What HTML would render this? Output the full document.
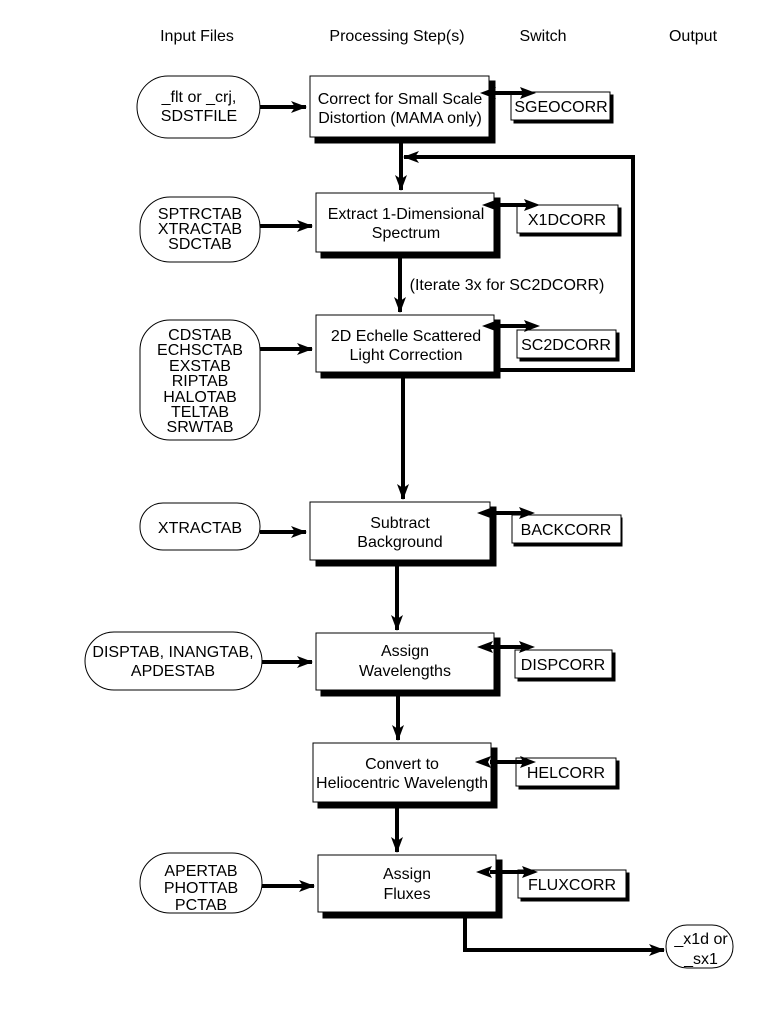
<!DOCTYPE html>
<html><head><meta charset="utf-8"><style>
html,body{margin:0;padding:0;background:#fff;}
svg{display:block;}
text{font-family:"Liberation Sans",sans-serif;font-size:16px;fill:#000;}
</style></head><body>
<svg width="778" height="1009" viewBox="0 0 778 1009" xmlns="http://www.w3.org/2000/svg">
<defs>
<marker id="ah" markerWidth="16" markerHeight="12" refX="15" refY="6" orient="auto" markerUnits="userSpaceOnUse">
<path d="M0,0 L16,6 L0,12 L4,6 Z" fill="#000"/>
</marker>
</defs>
<g text-anchor="middle">
<text x="197" y="41">Input Files</text>
<text x="397" y="41">Processing Step(s)</text>
<text x="543" y="41">Switch</text>
<text x="693" y="41">Output</text>
</g>

<!-- connectors -->
<g stroke="#000" stroke-width="4" fill="none">
<line x1="260" y1="107" x2="306" y2="107" marker-end="url(#ah)"/>
<line x1="260" y1="226" x2="312" y2="226" marker-end="url(#ah)"/>
<line x1="260" y1="349" x2="312" y2="349" marker-end="url(#ah)"/>
<line x1="260" y1="532" x2="306" y2="532" marker-end="url(#ah)"/>
<line x1="262" y1="662" x2="312" y2="662" marker-end="url(#ah)"/>
<line x1="262" y1="886" x2="314" y2="886" marker-end="url(#ah)"/>

<line x1="401" y1="143" x2="401" y2="190" marker-end="url(#ah)"/>
<line x1="400" y1="258" x2="400" y2="312" marker-end="url(#ah)"/>
<line x1="403" y1="378" x2="403" y2="499" marker-end="url(#ah)"/>
<line x1="397" y1="566" x2="397" y2="630" marker-end="url(#ah)"/>
<line x1="398" y1="696" x2="398" y2="740" marker-end="url(#ah)"/>
<line x1="397" y1="808" x2="397" y2="852" marker-end="url(#ah)"/>

<polyline points="495,370 633,370 633,157 404,157" marker-end="url(#ah)"/>
<polyline points="465,918 465,950 664,950" marker-end="url(#ah)"/>
</g>

<!-- processing boxes with shadows -->
<g stroke="#000" stroke-width="1">
<rect x="315" y="81" width="180" height="62" fill="#000"/>
<rect x="310" y="76" width="179" height="61" fill="#fff"/>
<rect x="321" y="198" width="179" height="60" fill="#000"/>
<rect x="316" y="193" width="178" height="59" fill="#fff"/>
<rect x="321" y="320" width="179" height="58" fill="#000"/>
<rect x="316" y="315" width="178" height="57" fill="#fff"/>
<rect x="316" y="507" width="180" height="59" fill="#000"/>
<rect x="310" y="502" width="180" height="58" fill="#fff"/>
<rect x="321" y="638" width="179" height="58" fill="#000"/>
<rect x="316" y="633" width="178" height="57" fill="#fff"/>
<rect x="318" y="748" width="179" height="60" fill="#000"/>
<rect x="313" y="743" width="178" height="59" fill="#fff"/>
<rect x="323" y="860" width="179" height="58" fill="#000"/>
<rect x="318" y="855" width="178" height="57" fill="#fff"/>
</g>
<g text-anchor="middle">
<text x="400" y="104">Correct for Small Scale</text>
<text x="400" y="123">Distortion (MAMA only)</text>
<text x="406" y="219">Extract 1-Dimensional</text>
<text x="406" y="238">Spectrum</text>
<text x="406" y="341">2D Echelle Scattered</text>
<text x="406" y="360">Light Correction</text>
<text x="400" y="528">Subtract</text>
<text x="400" y="547">Background</text>
<text x="405" y="656">Assign</text>
<text x="405" y="676">Wavelengths</text>
<text x="402" y="769">Convert to</text>
<text x="402" y="788">Heliocentric Wavelength</text>
<text x="407" y="879">Assign</text>
<text x="407" y="899">Fluxes</text>
<text x="507" y="290">(Iterate 3x for SC2DCORR)</text>
</g>

<!-- switch boxes -->
<g stroke="#000" stroke-width="1">
<rect x="514" y="95" width="99" height="28" fill="#000"/>
<rect x="511" y="92" width="99" height="28" fill="#fff"/>
<rect x="520" y="208" width="101" height="28" fill="#000"/>
<rect x="517" y="205" width="101" height="28" fill="#fff"/>
<rect x="520" y="333" width="99" height="28" fill="#000"/>
<rect x="517" y="330" width="99" height="28" fill="#fff"/>
<rect x="514" y="518" width="108" height="28" fill="#000"/>
<rect x="512" y="515" width="109" height="28" fill="#fff"/>
<rect x="518" y="653" width="97" height="28" fill="#000"/>
<rect x="515" y="650" width="97" height="28" fill="#fff"/>
<rect x="519" y="761" width="100" height="28" fill="#000"/>
<rect x="516" y="758" width="100" height="28" fill="#fff"/>
<rect x="521" y="873" width="108" height="28" fill="#000"/>
<rect x="518" y="870" width="108" height="28" fill="#fff"/>
</g>
<g text-anchor="middle">
<text x="561" y="112">SGEOCORR</text>
<text x="567" y="225">X1DCORR</text>
<text x="566" y="350">SC2DCORR</text>
<text x="566" y="535">BACKCORR</text>
<text x="563" y="670">DISPCORR</text>
<text x="566" y="778">HELCORR</text>
<text x="572" y="890">FLUXCORR</text>
</g>

<!-- double arrows (on top) -->
<g stroke="#000" stroke-width="4">
<line x1="490" y1="93" x2="525" y2="93"/>
<line x1="490" y1="205" x2="530" y2="205"/>
<line x1="490" y1="326" x2="530" y2="326"/>
<line x1="490" y1="513" x2="525" y2="513"/>
<line x1="490" y1="647" x2="525" y2="647"/>
<line x1="490" y1="762" x2="528" y2="762"/>
<line x1="490" y1="872" x2="530" y2="872"/>
</g>
<g fill="#000">
<path d="M480,93 L496,87 L493,93 L496,99 Z M536,93 L520,87 L523,93 L520,99 Z"/>
<path d="M482,205 L498,199 L495,205 L498,211 Z M540,205 L524,199 L527,205 L524,211 Z"/>
<path d="M482,326 L498,320 L495,326 L498,332 Z M540,326 L524,320 L527,326 L524,332 Z"/>
<path d="M477,513 L493,507 L490,513 L493,519 Z M535,513 L519,507 L522,513 L519,519 Z"/>
<path d="M477,647 L493,641 L490,647 L493,653 Z M535,647 L519,641 L522,647 L519,653 Z"/>
<path d="M475,762 L491,756 L488,762 L491,768 Z M536,762 L520,756 L523,762 L520,768 Z"/>
<path d="M476,872 L492,866 L489,872 L492,878 Z M538,872 L522,866 L525,872 L522,878 Z"/>
</g>

<!-- input ovals -->
<g stroke="#000" stroke-width="1" fill="#fff">
<rect x="137" y="76" width="123" height="62" rx="31"/>
<rect x="140" y="197" width="120" height="65" rx="30"/>
<rect x="140" y="320" width="120" height="120" rx="30"/>
<rect x="140" y="503" width="120" height="47" rx="23"/>
<rect x="85" y="632" width="177" height="58" rx="29"/>
<rect x="140" y="853" width="122" height="60" rx="30"/>
<rect x="666" y="925" width="67" height="43" rx="21"/>
</g>
<g text-anchor="middle">
<text x="199" y="102">_flt or _crj,</text>
<text x="199" y="121">SDSTFILE</text>
<text x="200" y="219">SPTRCTAB</text>
<text x="200" y="234">XTRACTAB</text>
<text x="200" y="249">SDCTAB</text>
<text x="200" y="340">CDSTAB</text>
<text x="200" y="355">ECHSCTAB</text>
<text x="200" y="371">EXSTAB</text>
<text x="200" y="386">RIPTAB</text>
<text x="200" y="402">HALOTAB</text>
<text x="200" y="417">TELTAB</text>
<text x="200" y="432">SRWTAB</text>
<text x="200" y="533">XTRACTAB</text>
<text x="173" y="657">DISPTAB, INANGTAB,</text>
<text x="173" y="676">APDESTAB</text>
<text x="201" y="876">APERTAB</text>
<text x="201" y="893">PHOTTAB</text>
<text x="201" y="910">PCTAB</text>
<text x="701" y="944">_x1d or</text>
<text x="701" y="964">_sx1</text>
</g>
</svg>
</body></html>
